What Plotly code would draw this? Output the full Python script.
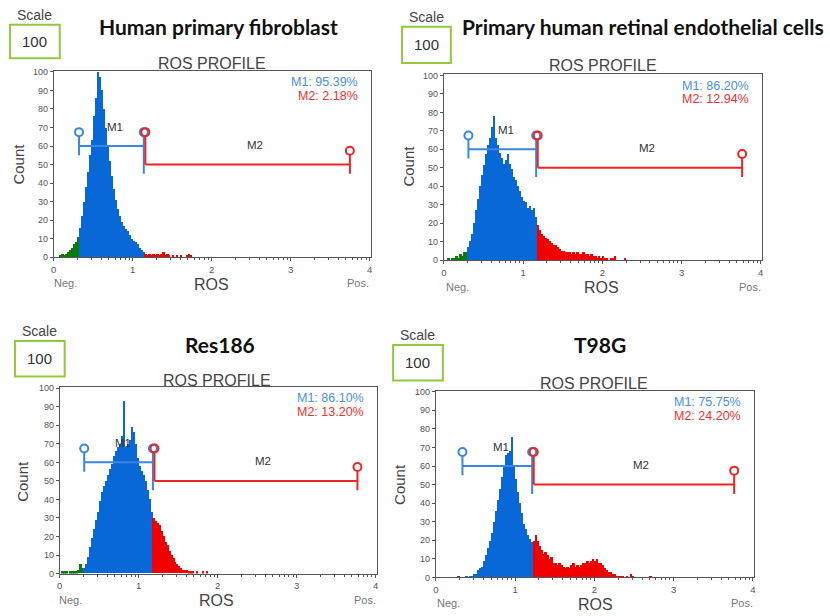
import numpy as np
import plotly.graph_objects as go

W, H = 830, 616
BIN = 0.025

# ---- histogram counts (bin width 0.025, starting at 0) ----
fibroblast_counts = [0, 0, 0, 1, 2, 1, 2, 3, 4, 5, 7, 8,
                     11, 16, 22, 30, 38, 46, 55, 63, 76, 86, 100, 97,
                     90, 80, 70, 60, 52, 44, 37, 31, 26, 22, 19, 17,
                     15, 14, 12, 10, 9, 8, 7, 5, 4, 3,
                     2, 1, 2, 1, 2, 1, 2, 1, 2, 3, 1, 2,
                     1, 0, 1, 0, 1, 0, 1, 0, 0, 1, 2, 1, 0]
retinal_counts = [0, 0, 1, 0, 1, 1, 2, 1, 3, 2, 4, 4,
                  7, 10, 14, 20, 27, 33, 40, 46, 51, 57, 62, 66,
                  72, 78, 66, 62, 58, 55, 52, 54, 57, 52, 49, 45,
                  43, 40, 37, 34, 32, 31, 28, 29, 27, 28,
                  23, 19, 16, 14, 13, 12, 11, 10, 9, 8, 8, 7,
                  6, 5, 5, 4, 4, 4, 3, 4, 3, 4, 3, 3,
                  4, 3, 3, 2, 3, 2, 2, 1, 2, 1, 2, 1,
                  1, 0, 1, 1, 2, 0, 0, 0, 0, 1]
res186_counts = [0, 1, 1, 1, 0, 1, 1, 1, 1, 2, 5, 3,
                 3, 5, 9, 14, 19, 24, 29, 33, 39, 44, 47, 50,
                 53, 56, 59, 63, 66, 68, 70, 74, 93, 68, 70, 72,
                 79, 76, 70, 62, 58, 55, 53, 50, 45, 40, 33, 30,
                 28, 27, 26, 23, 20, 17, 15, 12, 10, 8, 6, 5,
                 4, 3, 2, 2, 2, 1, 1, 1, 0, 1, 0, 0,
                 1, 0, 1, 0]
t98g_counts = [0, 0, 0, 0, 0, 0, 0, 0, 0, 0, 0, 1,
               0, 0, 0, 1, 0, 1, 1, 2, 2, 4, 5, 6,
               9, 12, 16, 20, 24, 30, 36, 42, 48, 54, 60, 66,
               67, 68, 76, 60, 53, 46, 40, 35, 29, 26, 23, 21,
               19, 20, 23, 20, 17, 15, 13, 14, 12, 10, 11, 8,
               8, 7, 8, 7, 6, 5, 6, 5, 7, 8, 6, 7,
               6, 7, 8, 8, 9, 8, 9, 10, 9, 10, 8, 8,
               7, 5, 4, 3, 3, 2, 2, 1, 1, 1, 1, 0,
               1, 0, 2, 1, 0, 0, 0, 0, 0, 0, 0, 0, 1]

all_counts = [fibroblast_counts, retinal_counts, res186_counts, t98g_counts]

titles = ["Human primary fibroblast", "Primary human retinal endothelial cells",
          "Res186", "T98G"]
m1_pct = ["M1: 95.39%", "M1: 86.20%", "M1: 86.10%", "M1: 75.75%"]
m2_pct = ["M2: 2.18%", "M2: 12.94%", "M2: 13.20%", "M2: 24.20%"]
m1_lo = [0.32, 0.31, 0.31, 0.335]
m1_hi = [1.14, 1.165, 1.18, 1.215]
m2_hi = [3.75, 3.765, 3.77, 3.765]
y_ticks = [0, 10, 20, 30, 40, 50, 60, 70, 80, 90, 100]
x_ticks = [0, 1, 2, 3, 4]

# ---- layout (pixel boxes) ----
plot_boxes = [  # left, right, bottom, top (px)
    (51, 370, 257, 68),
    (443, 763, 260, 71.5),
    (57, 376, 578, 389),
    (435, 755, 582, 392.5),
]
scale_boxes = [(7, 57, 21, 55), (401, 450, 23, 60), (12, 62, 342, 378), (392, 442, 346, 382)]
title_pos = [(217, 23), (643, 23), (218, 346), (600, 346)]
profile_pos = [(210, 60), (603, 62), (215, 382), (594, 385)]
count_pos = [(16, 162), (408, 165), (20, 484), (399, 488)]
ros_pos = [(210, 285), (601, 288), (215, 605), (595, 609)]
neg_pos = [(63, 283), (457, 287), (68, 605), (448, 608)]
pos_pos = [(357, 283), (751, 287), (364, 605), (743, 608)]

BAR_BLUE = "#0868d8"
BAR_RED = "#f00000"
BAR_GREEN = "#0a7a0a"
GATE_BLUE = "#3a86e0"
GATE_RED = "#ec2424"
FONT = "Arial, Liberation Sans"


def px(x):
    return x / W


def py(y):
    return 1 - y / H


fig = go.Figure()
annotations = []
shapes = []
minor_x = [k + np.log10(m) for k in range(4) for m in range(2, 10)]


def ann(pos, text, size, color="#333", bold=False, family=FONT, angle=0):
    annotations.append(dict(x=px(pos[0]), y=py(pos[1]), xref="paper", yref="paper",
                            text=f"<b>{text}</b>" if bold else text, showarrow=False,
                            xanchor="center", yanchor="middle", textangle=angle,
                            font=dict(family=family, size=size, color=color)))


for i in range(4):
    n = i + 1
    xa = "x" if n == 1 else f"x{n}"
    ya = "y" if n == 1 else f"y{n}"
    counts = np.array(all_counts[i], dtype=float)
    centers = np.arange(len(counts)) * BIN + BIN / 2
    colors = [BAR_GREEN if c < m1_lo[i] else (BAR_BLUE if c < m1_hi[i] else BAR_RED) for c in centers]
    fig.add_trace(go.Bar(x=centers, y=counts, width=BIN, marker=dict(color=colors, line=dict(width=0)),
                         xaxis=xa, yaxis=ya, hoverinfo="skip"))
    lo, hi, hi2 = m1_lo[i], m1_hi[i], m2_hi[i]
    # M1 gate
    fig.add_trace(go.Scatter(x=[lo, hi], y=[60, 60], mode="lines", line=dict(color=GATE_BLUE, width=2),
                             xaxis=xa, yaxis=ya, hoverinfo="skip"))
    fig.add_trace(go.Scatter(x=[lo, lo], y=[55, 65.5], mode="lines", line=dict(color=GATE_BLUE, width=2),
                             xaxis=xa, yaxis=ya, hoverinfo="skip"))
    fig.add_trace(go.Scatter(x=[hi, hi], y=[45, 65.5], mode="lines", line=dict(color=GATE_BLUE, width=2),
                             xaxis=xa, yaxis=ya, hoverinfo="skip"))
    # M2 gate
    fig.add_trace(go.Scatter(x=[hi + 0.02, hi2], y=[50, 50], mode="lines", line=dict(color=GATE_RED, width=2),
                             xaxis=xa, yaxis=ya, hoverinfo="skip"))
    fig.add_trace(go.Scatter(x=[hi + 0.02, hi + 0.02], y=[50, 65.5], mode="lines", line=dict(color=GATE_RED, width=2),
                             xaxis=xa, yaxis=ya, hoverinfo="skip"))
    fig.add_trace(go.Scatter(x=[hi2, hi2], y=[45, 55.5], mode="lines", line=dict(color=GATE_RED, width=2),
                             xaxis=xa, yaxis=ya, hoverinfo="skip"))
    fig.add_trace(go.Scatter(x=[lo, hi], y=[67.5, 67.5], mode="markers",
                             marker=dict(symbol="circle-open", size=8, color=GATE_BLUE, line=dict(width=2)),
                             xaxis=xa, yaxis=ya, hoverinfo="skip"))
    fig.add_trace(go.Scatter(x=[hi + 0.02, hi2], y=[67.5, 57.5], mode="markers",
                             marker=dict(symbol="circle-open", size=8, color=GATE_RED, line=dict(width=2)),
                             xaxis=xa, yaxis=ya, hoverinfo="skip"))

    l, r, b, t = plot_boxes[i]
    xkey = "xaxis" if n == 1 else f"xaxis{n}"
    ykey = "yaxis" if n == 1 else f"yaxis{n}"
    fig.layout[xkey] = dict(domain=[px(l), px(r)], range=[0, 4.02], anchor=ya,
                            showline=True, linecolor="#555", linewidth=1, mirror=True,
                            ticks="outside", ticklen=3, tickcolor="#555", tickvals=x_ticks,
                            tickfont=dict(family=FONT, size=9.5, color="#555"),
                            showgrid=False, zeroline=False, fixedrange=True,
                            minor=dict(tickvals=minor_x, ticks="outside", ticklen=2, tickcolor="#555"))
    fig.layout[ykey] = dict(domain=[py(b), py(t)], range=[0, 100.5], anchor=xa,
                            showline=True, linecolor="#555", linewidth=1, mirror=True,
                            ticks="outside", ticklen=3, tickcolor="#555", tickvals=y_ticks,
                            tickfont=dict(family=FONT, size=9, color="#555"),
                            showgrid=False, zeroline=False, fixedrange=True)

    # gate labels (data coords)
    annotations.append(dict(x=(lo + hi) / 2 + 0.05, y=70.5, xref=xa, yref=ya, text="M1", showarrow=False,
                            font=dict(family=FONT, size=11.5, color="#333")))
    annotations.append(dict(x=(hi + hi2) / 2 + 0.1, y=60.5, xref=xa, yref=ya, text="M2", showarrow=False,
                            font=dict(family=FONT, size=11.5, color="#333")))
    annotations.append(dict(x=3.88, y=94.5, xref=xa, yref=ya, text=m1_pct[i], showarrow=False, xanchor="right",
                            font=dict(family=FONT, size=12.5, color="#4a8fe2")))
    annotations.append(dict(x=3.88, y=87, xref=xa, yref=ya, text=m2_pct[i], showarrow=False, xanchor="right",
                            font=dict(family=FONT, size=12.5, color="#f03030")))

    sx0, sx1, sy0, sy1 = scale_boxes[i]
    ann(((sx0 + sx1) / 2, sy0 - 10), "Scale", 14, "#444")
    ann(((sx0 + sx1) / 2, (sy0 + sy1) / 2), "100", 15, "#333")
    shapes.append(dict(type="rect", xref="paper", yref="paper", x0=px(sx0), x1=px(sx1), y0=py(sy1), y1=py(sy0),
                       line=dict(color="#92c83e", width=2), fillcolor="rgba(0,0,0,0)"))
    ann(title_pos[i], titles[i], 21, "#111", bold=True, family="Lato, Open Sans")
    ann(profile_pos[i], "ROS PROFILE", 16, "#444")
    ann(count_pos[i], "Count", 15, "#444", angle=-90)
    ann(ros_pos[i], "ROS", 16, "#444")
    ann(neg_pos[i], "Neg.", 11, "#777")
    ann(pos_pos[i], "Pos.", 11, "#777")

fig.update_layout(width=W, height=H, margin=dict(l=0, r=0, t=0, b=0),
                  paper_bgcolor="white", plot_bgcolor="white", showlegend=False,
                  bargap=0, annotations=annotations, shapes=shapes, barmode="overlay")

fig.write_html("out.html", config={"displayModeBar": False})
